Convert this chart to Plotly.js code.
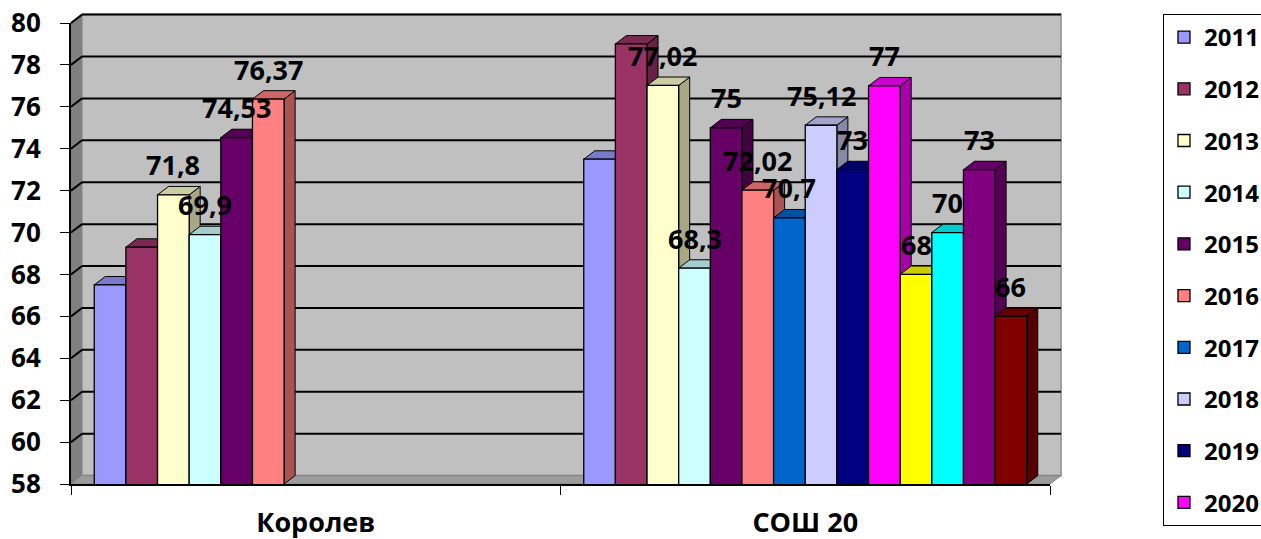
<!DOCTYPE html>
<html><head><meta charset="utf-8">
<script src="https://cdn.plot.ly/plotly-3.0.1.min.js"></script>
<style>body{margin:0;background:#fff}#chart{width:1261px;height:539px}</style>
</head><body><div id="chart"></div>
<script>
// ---- data ----
const categories = ['Королев', 'СОШ 20'];
const years = ['2011', '2012', '2013', '2014', '2015', '2016', '2017', '2018', '2019', '2020', '2021', '2022', '2023', '2024'];
const korolevValues = [67.5, 69.3, 71.8, 69.9, 74.53, 76.37, null, null, null, null, null, null, null, null];
const sosh20Values = [73.5, 79, 77.02, 68.3, 75, 72.02, 70.7, 75.12, 73, 77, 68, 70, 73, 66];
const korolevLabels = [null, null, '71,8', '69,9', '74,53', '76,37', null, null, null, null, null, null, null, null];
const sosh20Labels = [null, null, '77,02', '68,3', '75', '72,02', '70,7', '75,12', '73', '77', '68', '70', '73', '66'];
const seriesColors = ['#9999FF', '#993366', '#FFFFCC', '#CCFFFF', '#660066', '#FF8080', '#0066CC', '#CCCCFF', '#000080', '#FF00FF', '#FFFF00', '#00FFFF', '#800080', '#800000'];
const legendShown = [true, true, true, true, true, true, true, true, true, true, false, false, false, false];
const yTicks = [58, 60, 62, 64, 66, 68, 70, 72, 74, 76, 78, 80];

// ---- style / geometry ----
const Y0 = 58, Y1 = 80;
const BARGAP = 0.095;
const N = years.length;
const plotW = 979, plotH = 461;
const depthPx = 11, risePx = 8.4;
const dxData = depthPx / (plotW / 2);
const dyData = risePx / (plotH / (Y1 - Y0));
const dxPaper = depthPx / plotW, dyPaper = risePx / plotH;
const FONT = 'Open Sans, Noto Sans, DejaVu Sans, sans-serif';

function shade(hex, f) {
  const n = parseInt(hex.slice(1), 16);
  const r = Math.round(((n >> 16) & 255) * f), g = Math.round(((n >> 8) & 255) * f), b = Math.round((n & 255) * f);
  return 'rgb(' + r + ',' + g + ',' + b + ')';
}
const valuesByCat = [korolevValues, sosh20Values];
const labelsByCat = [korolevLabels, sosh20Labels];

const traces = years.map((yr, i) => ({
  type: 'bar', name: yr, x: categories,
  y: [korolevValues[i], sosh20Values[i]],
  marker: {color: seriesColors[i], line: {color: '#000', width: 1.3}},
  legendgroup: 'g' + i, showlegend: legendShown[i], hoverinfo: 'x+y+name'
}));

const w = (1 - BARGAP) / N;
function barX(c, i) { return c - (1 - BARGAP) / 2 + (i + 0.5) * w; }

const shapes = [];
shapes.push({type: 'rect', xref: 'paper', yref: 'paper', x0: dxPaper, x1: 1 + dxPaper, y0: dyPaper, y1: 1 + dyPaper,
  fillcolor: '#C0C0C0', line: {color: '#A0A0A0', width: 2}, layer: 'below'});
shapes.push({type: 'path', xref: 'paper', yref: 'paper', layer: 'below',
  path: `M0,0 L0,1 L${dxPaper},${1 + dyPaper} L${dxPaper},${dyPaper} Z`, fillcolor: '#808080', line: {width: 0}});
shapes.push({type: 'path', xref: 'paper', yref: 'paper', layer: 'below',
  path: `M0,0 L${dxPaper},${dyPaper} L${1 + dxPaper},${dyPaper} L1,0 Z`, fillcolor: '#9C9C9C', line: {color: '#808080', width: 1}});
yTicks.forEach(v => {
  if (v === Y0) return;
  const yp = (v - Y0) / (Y1 - Y0);
  shapes.push({type: 'line', xref: 'paper', yref: 'paper', layer: 'below', x0: dxPaper, x1: 1 + dxPaper, y0: yp + dyPaper, y1: yp + dyPaper, line: {color: '#000', width: 2}});
  shapes.push({type: 'line', xref: 'paper', yref: 'paper', layer: 'below', x0: 0, x1: dxPaper, y0: yp, y1: yp + dyPaper, line: {color: '#000', width: 2}});
});
const annotations = [];
valuesByCat.forEach((vals, c) => {
  vals.forEach((v, i) => {
    if (v === null) return;
    const xc = barX(c, i), xl = xc - w / 2, xr = xc + w / 2;
    shapes.push({type: 'path', xref: 'x', yref: 'y', layer: 'below',
      path: `M${xr},${Y0} L${xr + dxData},${Y0 + dyData} L${xr + dxData},${v + dyData} L${xr},${v} Z`,
      fillcolor: shade(seriesColors[i], 0.66), line: {color: '#000', width: 1}});
    shapes.push({type: 'path', xref: 'x', yref: 'y', layer: 'below',
      path: `M${xl},${v} L${xl + dxData},${v + dyData} L${xr + dxData},${v + dyData} L${xr},${v} Z`,
      fillcolor: shade(seriesColors[i], 0.8), line: {color: '#000', width: 1}});
    const lab = labelsByCat[c][i];
    if (lab) annotations.push({xref: 'x', yref: 'y', x: xc, y: v, text: lab, showarrow: false,
      yshift: 30, xanchor: 'center', yanchor: 'middle',
      font: {family: FONT, size: 27, weight: 700, color: '#000'}});
  });
});

const layout = {
  width: 1261, height: 539,
  margin: {l: 71, r: 211, t: 23, b: 55, autoexpand: false},
  paper_bgcolor: '#fff', plot_bgcolor: 'rgba(0,0,0,0)',
  barmode: 'group', bargap: BARGAP, bargroupgap: 0,
  font: {family: FONT, color: '#000'},
  xaxis: {type: 'category', categoryorder: 'array', categoryarray: categories, range: [-0.5, 1.5],
    tickson: 'boundaries', ticks: 'outside', ticklen: 9, tickcolor: '#000', tickwidth: 1,
    showline: true, linecolor: '#000', linewidth: 1.5, showgrid: false, zeroline: false,
    tickfont: {family: FONT, size: 27, weight: 700, color: '#000'}, ticklabelstandoff: 14, fixedrange: true},
  yaxis: {range: [Y0, Y1], tickvals: yTicks, ticks: 'outside', ticklen: 9, tickcolor: '#000', tickwidth: 1,
    showline: true, linecolor: '#000', linewidth: 2, showgrid: false, zeroline: false,
    tickfont: {family: FONT, size: 26, weight: 700, color: '#000'}, ticklabelstandoff: 14, fixedrange: true},
  legend: {x: 1.1154, y: 1.0195, xanchor: 'left', yanchor: 'top', bgcolor: '#fff', maxheight: 1,
    bordercolor: '#000', borderwidth: 1, tracegroupgap: 17.5, traceorder: 'grouped',
    font: {family: FONT, size: 24, weight: 700, color: '#000'}},
  shapes: shapes, annotations: annotations, showlegend: true
};
Plotly.newPlot('chart', traces, layout, {displayModeBar: false, staticPlot: true});
</script></body></html>
